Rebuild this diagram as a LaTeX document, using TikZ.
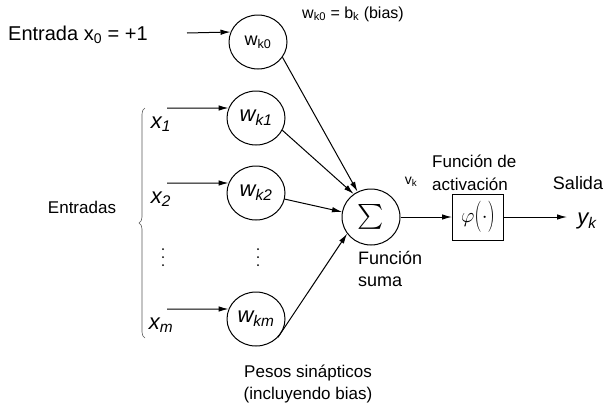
\documentclass[tikz,border=0pt]{standalone}
\usepackage{fontspec}
\setmainfont{Liberation Sans}
\usepackage{amsmath}
\usetikzlibrary{arrows.meta,decorations.pathreplacing,shapes.geometric}
\tikzset{
    weight node/.style={
        draw, ellipse, line width=1pt,
        minimum width=58pt, minimum height=54pt, inner sep=0pt,
        font=\fontsize{22}{26}\selectfont
    },
    signal/.style={
        line width=1pt,
        -{Latex[length=10pt,width=5.5pt]}
    },
    plain text/.style={
        inner sep=0pt,
        font=\fontsize{18}{22}\selectfont
    }
}
\newcommand{\bigparen}[1]{\raisebox{-2pt}{\scalebox{1}[1.5]{$#1$}}}

\begin{document}
\begin{tikzpicture}[x=1pt,y=-1pt]
    \useasboundingbox (0,0) rectangle (607,408);
    % bias input
    \node [plain text, anchor=west, font=\fontsize{20}{24}\selectfont] (bias in) at (8,35) {Entrada x\textsubscript{0} = +1};
    \node [weight node, font=\fontsize{18}{22}\selectfont] (w0) at (258,42) {w\textsubscript{k0}};
    \coordinate (s0) at (187,33);
    \draw [signal] (s0) -- (w0.160);
    \node [plain text, anchor=west, font=\fontsize{16}{18}\selectfont] (bias note) at (302,14) {w\textsubscript{k0} = b\textsubscript{k} (bias)};
    % inputs and weights
    \foreach \n/\y in {1/118, 2/193, m/319} {
        \node [weight node] (w\n) at (256,\y) {\textit{w\textsubscript{k\n}}};
        \node [plain text, font=\fontsize{22}{26}\selectfont] (x\n) at (161,\y+6) {\textit{x\textsubscript{\n}}};
        \coordinate (s\n) at (167,\y-10);
        \draw [signal] (s\n) -- (w\n.160);
    }
    \foreach \y in {249,257,265} {
        \fill (163,\y) circle (1pt);
        \fill (258,\y) circle (1pt);
    }
    \draw [decorate, decoration={brace, amplitude=6pt}, line width=0.6pt, gray!70!black] (145,338) -- (145,108);
    \node [plain text, font=\fontsize{17}{21}\selectfont] (inputs label) at (82,207) {Entradas};
    % summing junction and activation
    \node [weight node, minimum width=58pt, minimum height=56pt, font=\fontsize{26}{30}\selectfont] (sum) at (371,217) {$\sum$};
    \draw [signal] (w0.-32) -- (sum.118);
    \draw [signal] (w1.-25) -- (sum.127);
    \draw [signal] (w2.-12) -- (sum.170);
    \draw [signal] (wm.-40) -- (sum.215);
    \node [plain text, font=\fontsize{14}{16}\selectfont] (vk) at (411,182) {v\textsubscript{k}};
    \node [plain text, align=left, anchor=north west] (sum label) at (358,251) {Función\\suma};
    \node [draw, line width=1pt, minimum width=51pt, minimum height=46pt, inner sep=0pt, font=\fontsize{22}{26}\selectfont] (act) at (478,217) {$\varphi$\bigparen{(}$\cdot$\bigparen{)}};
    \node [plain text, align=left, anchor=south west, font=\fontsize{17}{23}\selectfont] (act label) at (432,191) {Función de\\activación};
    \draw [signal] (sum.east) -- (act.west);
    \coordinate (out end) at (567,217);
    \draw [signal] (act.east) -- (out end);
    \node [font=\fontsize{22}{26}\selectfont] (yk) at (587,221) {\textit{y\textsubscript{k}}};
    \node [plain text] (out label) at (578,183) {Salida};
    \node [plain text, align=center, font=\fontsize{17}{22}\selectfont] (weights label) at (308,384) {Pesos sinápticos\\(incluyendo bias)};
\end{tikzpicture}
\end{document}
